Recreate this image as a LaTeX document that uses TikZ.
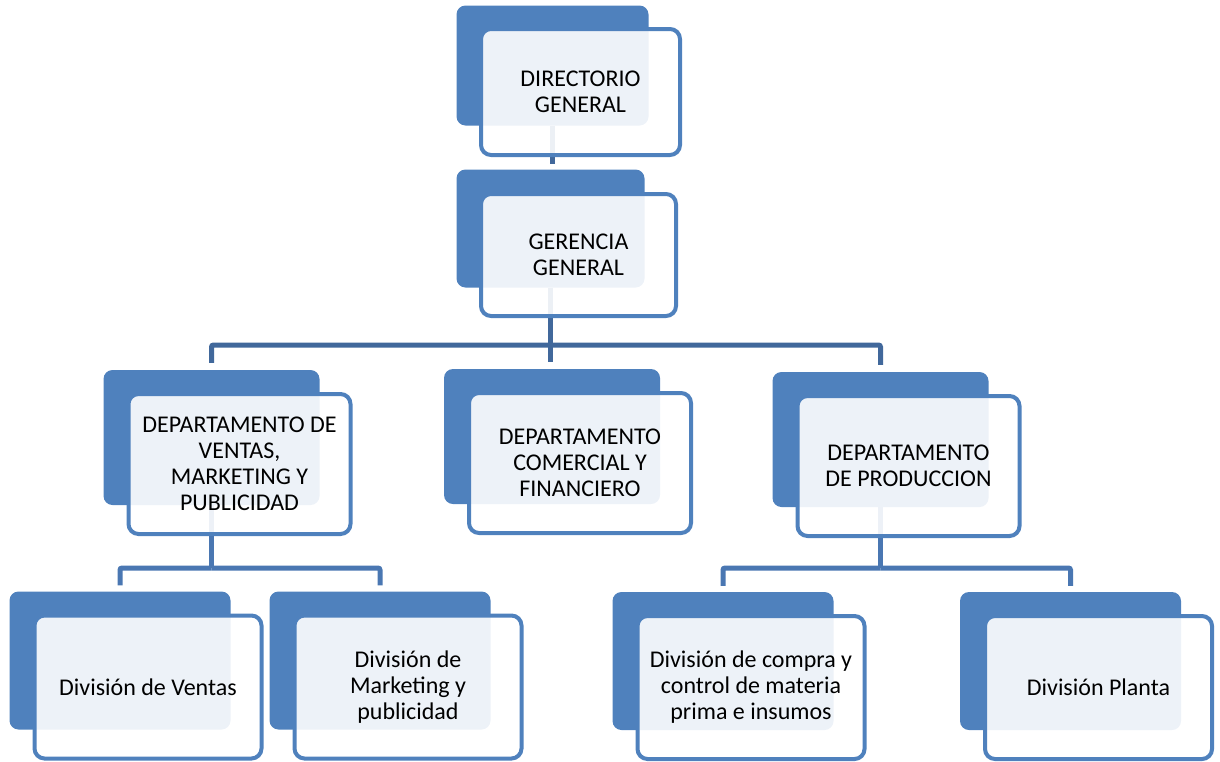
\documentclass[tikz,border=0pt]{standalone}
\usepackage{fontspec}
\setmainfont{Carlito}
\usepackage{tikz}
\usetikzlibrary{positioning}

\definecolor{colBox}{HTML}{4F81BD}
\definecolor{colLinkTop}{HTML}{41689B}
\definecolor{colLinkSub}{HTML}{4A77B2}

\begin{document}
\begin{tikzpicture}[x=1pt,y=-1pt,
  backbox/.style 2 args={fill=colBox, rounded corners=9pt, inner sep=0pt,
    minimum width=#1, minimum height=#2},
  frontbox/.style 2 args={draw=colBox, line width=4pt, fill=white, fill opacity=0.9,
    text opacity=1, rounded corners=10pt, align=center, inner sep=2pt,
    font=\fontsize{24}{26}\selectfont, minimum width=#1, minimum height=#2},
  linkTop/.style={draw=colLinkTop, line width=5pt, rounded corners=2pt},
  linkSub/.style={draw=colLinkSub, line width=5pt, rounded corners=2pt}]

\useasboundingbox (0,0) rectangle (1220,761);

% Cajas de fondo
\node[backbox={192}{120}] (dirB) at (552.5,65.5) {};
\node[backbox={188}{118}] (gerB) at (550.5,228.5) {};
\node[backbox={216}{135}] (venB) at (211.5,437.5) {};
\node[backbox={216}{135}] (comB) at (552,436.5) {};
\node[backbox={216}{135}] (proB) at (880.5,439.5) {};
\node[backbox={221}{138}] (dveB) at (120,660.5) {};
\node[backbox={221}{138}] (dmkB) at (380,660.5) {};
\node[backbox={221}{138}] (dcoB) at (723,661) {};
\node[backbox={221}{138}] (dplB) at (1070.5,661) {};

% Conectores
\coordinate (busA) at (550.5,345);
\coordinate (busV) at (211.5,568);
\coordinate (busP) at (880.5,568);

\draw[linkTop, shorten >=5pt] (dirB.south) -- (dirB.south |- gerB.north);
\draw[linkTop] (gerB.south) -- (busA);
\draw[linkTop, shorten >=7pt] (busA) -| (venB.north);
\draw[linkTop, shorten >=7pt] (busA) -- (busA |- comB.north);
\draw[linkTop, shorten >=7pt] (busA) -| (proB.north);

\draw[linkSub] (venB.south) -- (busV);
\draw[linkSub, shorten >=6pt] (busV) -| (dveB.north);
\draw[linkSub, shorten >=6pt] (busV) -| (dmkB.north);

\draw[linkSub] (proB.south) -- (busP);
\draw[linkSub, shorten >=6pt] (busP) -| (dcoB.north);
\draw[linkSub, shorten >=6pt] (busP) -| (dplB.north);

% Cajas con texto
\node[frontbox={199}{126}] (dir) at ([shift={(28,26.5)}]dirB.center) {DIRECTORIO\\GENERAL};
\node[frontbox={195}{122}] (ger) at ([shift={(28,26.5)}]gerB.center) {GERENCIA\\GENERAL};
\node[frontbox={222}{140}] (ven) at ([shift={(28,26.5)}]venB.center) {DEPARTAMENTO DE\\VENTAS,\\MARKETING Y\\PUBLICIDAD};
\node[frontbox={222}{140}] (com) at ([shift={(28,26.5)}]comB.center) {DEPARTAMENTO\\COMERCIAL Y\\FINANCIERO};
\node[frontbox={222}{140}] (pro) at ([shift={(28,26.5)}]proB.center) {DEPARTAMENTO\\DE PRODUCCION};
\node[frontbox={227}{143}] (dve) at ([shift={(28,26.5)}]dveB.center) {División de Ventas};
\node[frontbox={227}{143}] (dmk) at ([shift={(28,26.5)}]dmkB.center) {División de\\Marketing y\\publicidad};
\node[frontbox={227}{143}] (dco) at ([shift={(28,26.5)}]dcoB.center) {División de compra y\\control de materia\\prima e insumos};
\node[frontbox={227}{143}] (dpl) at ([shift={(28,26.5)}]dplB.center) {División Planta};

\end{tikzpicture}
\end{document}
